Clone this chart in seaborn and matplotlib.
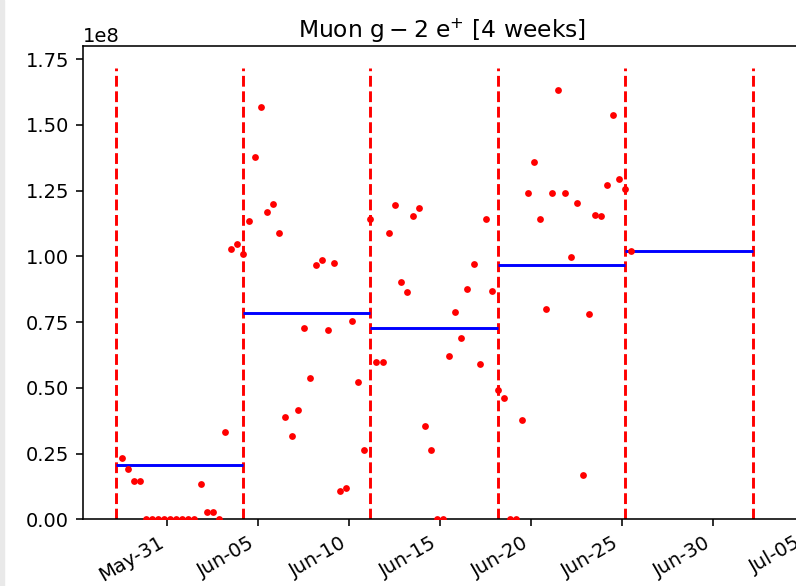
"""Muon g-2 e+ rate over 4 weeks, 8-hour bins with weekly averages"""

import matplotlib.pyplot as plt
import matplotlib.dates as mdates
from matplotlib.patches import Rectangle
from matplotlib.ticker import MultipleLocator
import numpy as np
import pandas as pd
import seaborn as sns


# --------------------------------------------------------------------------- #
# Data (8-hour bins, values in units of 1e8)
first_bin = '2019-05-28 12:00'
n_bins = 85
rate_1e8 = [
    0.234, 0.190, 0.146, 0.146, 0.0, 0.0, 0.0, 0.0, 0.0, 0.0, 0.0, 0.0, 0.0,
    0.134, 0.029, 0.029, 0.0, 0.333, 1.029, 1.047, 1.008,
    1.135, 1.378, 1.567, 1.168, 1.201, 1.090, 0.389, 0.317, 0.416, 0.727,
    0.539, 0.969, 0.986, 0.721, 0.975, 0.108, 0.119, 0.754, 0.522, 0.264,
    1.141,
    0.600, 0.600, 1.087, 1.197, 0.904, 0.866, 1.153, 1.185, 0.356, 0.264,
    0.0, 0.0, 0.622, 0.789, 0.689, 0.876, 0.970, 0.590, 1.141, 0.870, 0.491,
    0.461, 0.0, 0.0, 0.378, 1.240, 1.357, 1.141, 0.799, 1.240, 1.633, 1.240,
    0.998, 1.202, 0.169, 0.782, 1.159, 1.153, 1.273, 1.539, 1.296, 1.258,
    1.020,
]
week_starts = ['2019-05-28 04:00', '2019-06-04 04:00', '2019-06-11 04:00',
               '2019-06-18 04:00', '2019-06-25 04:00', '2019-07-02 04:00']
tick_dates = ['2019-05-31', '2019-06-05', '2019-06-10', '2019-06-15',
              '2019-06-20', '2019-06-25', '2019-06-30', '2019-07-05']

times = pd.date_range(first_bin, periods=n_bins, freq='8h')
rate = np.array(rate_1e8) * 1e8
bounds = pd.to_datetime(week_starts)
df = pd.DataFrame({'time': times, 'rate': rate})

# weekly averages, a bin on a boundary belongs to the week before it
df['week'] = pd.cut(df['time'], bins=bounds, right=True, labels=False)
weekly = df.groupby('week')['rate'].mean()

# --------------------------------------------------------------------------- #
# the reference was rendered larger, so scale fonts and lines up
plt.rcParams.update({
    'font.size': 14,
    'axes.linewidth': 1.15,
    'xtick.major.width': 1.15,
    'ytick.major.width': 1.15,
    'xtick.major.size': 5,
    'ytick.major.size': 5,
    'xtick.major.pad': 5,
    'ytick.major.pad': 5,
})

fig = plt.figure(figsize=(7.96, 5.86), dpi=100)
fig.patches.append(Rectangle((0, 0), 4 / 796, 1, transform=fig.transFigure,
                             color='#e9e9e9', zorder=0))
ax = fig.add_axes([83 / 796, 66.7 / 586, 725 / 796, 473.3 / 586])

sns.scatterplot(data=df, x='time', y='rate', color='red', s=24,
                linewidth=0, ax=ax, zorder=3)
ax.vlines(bounds, 0, 1.05 * rate.max(), colors='red', linestyles='--',
          linewidth=2.1)
ax.hlines(weekly.values, bounds[weekly.index], bounds[weekly.index + 1],
          colors='blue', linewidth=2.1)

ax.set_ylim(0, 1.8e8)
ax.yaxis.set_major_locator(MultipleLocator(0.25e8))
ax.set_xlim(pd.Timestamp('2019-05-26 09:00'), pd.Timestamp('2019-07-05 05:00'))
ax.set_xticks(pd.to_datetime(tick_dates))
ax.xaxis.set_major_formatter(mdates.DateFormatter('%b-%d'))
plt.setp(ax.get_xticklabels(), rotation=30, ha='right')
ax.set_xlabel('')
ax.set_ylabel('')
ax.set_title(r'Muon $\mathrm{g-2}$ $\mathrm{e}^{+}$ [4 weeks]', x=0.4945)

fig.savefig('out.png', dpi=100)
